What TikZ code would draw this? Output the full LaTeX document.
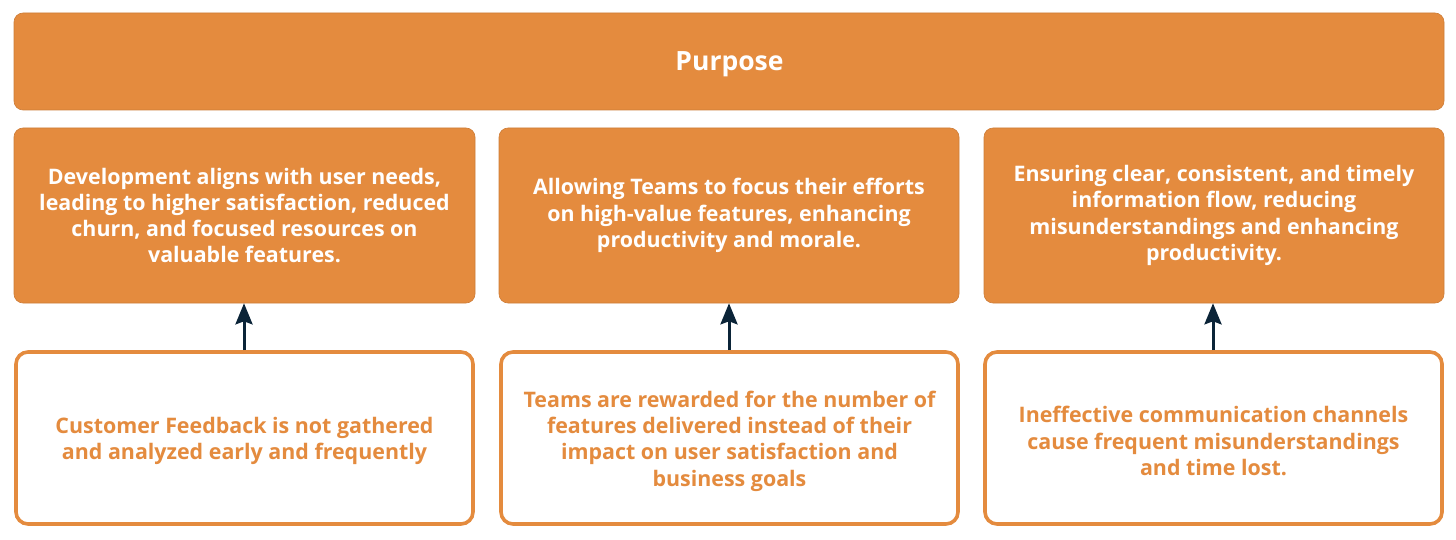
\documentclass[tikz,border=0pt]{standalone}
\usepackage{fontspec}
\setmainfont{Open Sans}
\usetikzlibrary{arrows.meta}
\definecolor{orng}{HTML}{E48B3E}
\definecolor{navy}{HTML}{0B2438}
\tikzset{
  topbox/.style={rectangle, rounded corners=9pt, fill=orng, draw=orng!90!black, line width=0.6pt, inner sep=0pt, text=white, font=\bfseries\fontsize{26.5}{30}\selectfont},
  midbox/.style={rectangle, rounded corners=9pt, fill=orng, draw=orng!90!black, line width=0.6pt, inner sep=0pt, text=white, align=center, font=\bfseries\fontsize{21.4}{26.3}\selectfont},
  lowbox/.style={rectangle, rounded corners=12pt, fill=white, draw=orng, line width=3.6pt, inner sep=0pt, text=orng, align=center, font=\bfseries\fontsize{21.4}{26.3}\selectfont},
  uparrow/.style={draw=navy, line width=3pt, -{Stealth[length=21pt, width=17pt, inset=3pt]}}
}
\begin{document}
\begin{tikzpicture}[x=1pt, y=-1pt]
\useasboundingbox (0,0) rectangle (1456,540);
\node[topbox, minimum width=1430pt, minimum height=97pt] (purpose) at (729,61.5) {};
\node[font=\bfseries\fontsize{26.5}{30}\selectfont, text=white, inner sep=0pt] (ptext) at (729.5,64) {Purpose};

\node[midbox, minimum width=461pt, minimum height=175pt] (m1) at (244.5,215.5) {Development aligns with user needs,\\leading to higher satisfaction, reduced\\churn, and focused resources on\\valuable features.};
\node[midbox, minimum width=460pt, minimum height=175pt] (m2) at (729,215.5) {Allowing Teams to focus their efforts\\on high-value features, enhancing\\productivity and morale.};
\node[midbox, minimum width=460pt, minimum height=175pt] (m3) at (1214,215.5) {Ensuring clear, consistent, and timely\\information flow, reducing\\misunderstandings and enhancing\\productivity.};

\node[lowbox, minimum width=457pt, minimum height=172pt] (b1) at (244.5,438) {};
\node[lowbox, minimum width=457pt, minimum height=172pt] (b2) at (729.5,438) {};
\node[lowbox, minimum width=457pt, minimum height=172pt] (b3) at (1213.5,438) {};
\tikzset{lowtext/.style={draw=none, fill=none, inner sep=0pt, text=orng, align=center, font=\bfseries\fontsize{21.4}{26.3}\selectfont}}
\node[lowtext] (t1) at (244.5,441) {Customer Feedback is not gathered\\and analyzed early and frequently};
\node[lowtext] (t2) at (729.5,441) {Teams are rewarded for the number of\\features delivered instead of their\\impact on user satisfaction and\\business goals};
\node[lowtext] (t3) at (1213.5,441) {Ineffective communication channels\\cause frequent misunderstandings\\and time lost.};

\draw[uparrow] (b1.north -| 244,0) -- (m1.south -| 244,0);
\draw[uparrow] (b2.north -| 729,0) -- (m2.south -| 729,0);
\draw[uparrow] (b3.north -| 1213,0) -- (m3.south -| 1213,0);
\end{tikzpicture}
\end{document}
